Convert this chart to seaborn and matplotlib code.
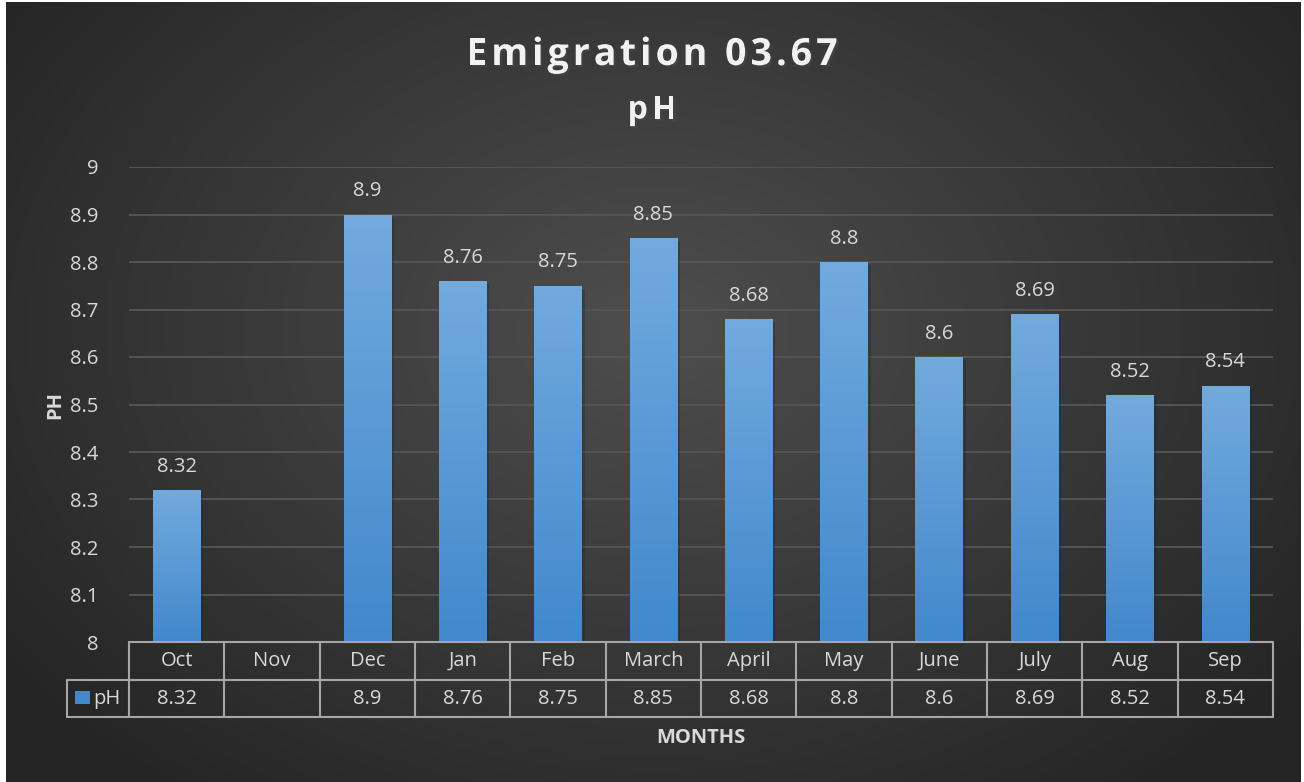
import numpy as np
import pandas as pd
import matplotlib
matplotlib.use("Agg")
import matplotlib.pyplot as plt
import matplotlib.patheffects as pe
from matplotlib.patches import Rectangle
import matplotlib.transforms as mtrans
import seaborn as sns

months = ["Oct", "Nov", "Dec", "Jan", "Feb", "March", "April", "May", "June", "July", "Aug", "Sep"]
ph = [8.32, np.nan, 8.9, 8.76, 8.75, 8.85, 8.68, 8.8, 8.6, 8.69, 8.52, 8.54]
yticks = [8.0, 8.1, 8.2, 8.3, 8.4, 8.5, 8.6, 8.7, 8.8, 8.9, 9.0]

df = pd.DataFrame({"month": months, "pH": ph})

sns.set_theme(style="dark")
plt.rcParams["font.family"] = ["Open Sans", "DejaVu Sans"]

TXT = "#d9d9d9"
GRID = "#545454"
LINE = "#a6a6a6"
top_c = np.array([114, 170, 222]) / 255
bot_c = np.array([66, 136, 204]) / 255

fig = plt.figure(figsize=(13.04, 7.82), dpi=100, facecolor="white")
renderer = fig.canvas.get_renderer()


def spaced_text(x_px, y_px, s, gap, **kw):
    # letter-spaced text centred at (x_px, y_px) in figure pixels
    def w(t):
        a = fig.text(0, 0, t + "|", **kw)
        b = fig.text(0, 0, "|", **kw)
        res = a.get_window_extent(renderer).width - b.get_window_extent(renderer).width
        a.remove()
        b.remove()
        return res
    total = w(s) + gap * (len(s) - 1)
    x0 = x_px - total / 2
    for k, ch in enumerate(s):
        if ch == " ":
            continue
        fig.text((x0 + w(s[:k]) + gap * k) / 1304, 1 - y_px / 782, ch, ha="left", va="center", **kw)


# dark radial background
bg = fig.add_axes([6 / 1304, 0, 1295 / 1304, 780 / 782])
bg.set_axis_off()
yy, xx = np.mgrid[0:1:300j, 0:1:500j]
r = np.clip(np.sqrt(((xx - 0.5) / 0.62) ** 2 + ((yy - 0.42) / 0.75) ** 2), 0, 1)
center = np.array([78, 78, 78]) / 255
edge = np.array([37, 37, 37]) / 255
img = center[None, None, :] * (1 - r[..., None]) + edge[None, None, :] * r[..., None]
bg.imshow(img, extent=[0, 1, 0, 1], aspect="auto", origin="upper")
bg.set_xlim(0, 1)
bg.set_ylim(0, 1)

ax = fig.add_axes([129 / 1304, 1 - 642 / 782, 1144 / 1304, 475 / 782])
ax.patch.set_alpha(0)

sns.barplot(data=df, x="month", y="pH", order=months, width=0.5, color=bot_c, ax=ax,
            edgecolor="none", linewidth=0, zorder=3)
ax.set_ylim(8, 9)
ax.set_xlim(-0.5, len(months) - 0.5)

# vertical gradient inside each bar
grad = np.linspace(0, 1, 100)[:, None, None]
gimg = top_c[None, None, :] * (1 - grad) + bot_c[None, None, :] * grad
for p in list(ax.patches):
    h = p.get_height()
    if np.isnan(h):
        continue
    x0 = p.get_x()
    p.set_path_effects([pe.SimplePatchShadow(offset=(2, -2), alpha=0.35), pe.Normal()])
    im = ax.imshow(gimg, extent=[x0, x0 + p.get_width(), 8, h], aspect="auto",
                   origin="upper", zorder=4)
    im.set_clip_path(p)
    ax.text(x0 + p.get_width() / 2, h + 0.028, f"{h:g}", ha="center", va="bottom",
            color=TXT, fontsize=14.5)
ax.set_xlim(-0.5, len(months) - 0.5)
ax.set_ylim(8, 9)

ax.set_yticks(yticks)
ax.set_yticklabels([f"{v:g}" for v in yticks], color=TXT, fontsize=14.5)
ax.tick_params(axis="y", length=0, pad=22)
ax.set_xticks([])
ax.set_xlabel("")
ax.set_ylabel("")
for s in ax.spines.values():
    s.set_visible(False)
ax.yaxis.grid(True, color=GRID, linewidth=1.4, zorder=0)
ax.set_axisbelow(True)

# data table under the axis
tr = mtrans.blended_transform_factory(ax.transData, ax.transAxes)
row1, row2 = -0.08, -0.158
leg_x = -62 / 1144
kw = dict(color=LINE, linewidth=1.5, clip_on=False, zorder=5)
ax.plot([-0.5, 11.5], [0, 0], transform=tr, **kw)
ax.plot([leg_x, 1], [row1, row1], transform=ax.transAxes, **kw)
ax.plot([leg_x, 1], [row2, row2], transform=ax.transAxes, **kw)
ax.plot([leg_x, leg_x], [row1, row2], transform=ax.transAxes, **kw)
for i in range(len(months) + 1):
    ax.plot([i - 0.5, i - 0.5], [0, row2], transform=tr, **kw)
for i, (m, v) in enumerate(zip(months, ph)):
    ax.text(i, row1 / 2, m, transform=tr, ha="center", va="center", color=TXT, fontsize=14.5)
    if not np.isnan(v):
        ax.text(i, (row1 + row2) / 2, f"{v:g}", transform=tr, ha="center", va="center",
                color=TXT, fontsize=14.5)
ax.add_patch(Rectangle((-54 / 1144, -0.1305), 15 / 1144, 0.0275, transform=ax.transAxes,
                       facecolor=bot_c, edgecolor="none", clip_on=False))
ax.text(-36 / 1144, (row1 + row2) / 2, "pH", transform=ax.transAxes, ha="left", va="center",
        color=TXT, fontsize=14.5)

shadow = [pe.withSimplePatchShadow(offset=(1.5, -1.5), alpha=0.5)]
spaced_text(652, 55, "Emigration 03.67", 4, color="#f2f2f2", fontsize=27, fontweight="bold",
            path_effects=shadow)
spaced_text(652, 110, "pH", 4, color="#f2f2f2", fontsize=23, fontweight="bold",
            path_effects=shadow)
fig.text(55 / 1304, 1 - 405 / 782, "PH", rotation=90, ha="center", va="center", color=TXT,
         fontsize=14.5, fontweight="bold")
fig.text(701 / 1304, 1 - 738 / 782, "MONTHS", ha="center", va="center", color=TXT,
         fontsize=14.5, fontweight="bold")

fig.savefig("out.png", dpi=100, facecolor="white")
